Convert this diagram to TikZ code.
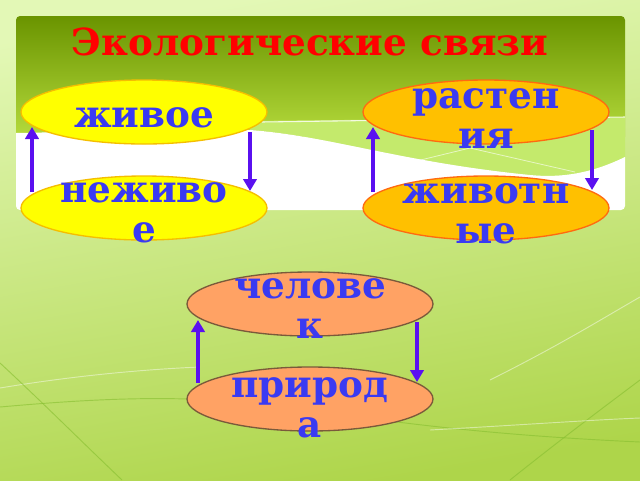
\documentclass[tikz,border=0pt]{standalone}
\usepackage{fontspec}
\setmainfont{DejaVu Serif}
\usetikzlibrary{shapes.geometric,arrows.meta,calc}
\definecolor{bgtop}{HTML}{E3F8B6}
\definecolor{bgbot}{HTML}{AED54A}
\definecolor{bantop}{HTML}{6A9400}
\definecolor{banbot}{HTML}{B4DA3C}
\definecolor{band}{HTML}{C4EA6C}
\definecolor{txtblue}{HTML}{3A3AF2}
\definecolor{arrblue}{HTML}{5A10F0}
\definecolor{ylfill}{HTML}{FFFF00}
\definecolor{ylline}{HTML}{F5BE00}
\definecolor{orfill}{HTML}{FFC000}
\definecolor{orline}{HTML}{FF6A10}
\definecolor{sfill}{HTML}{FFA264}
\definecolor{sline}{HTML}{7A5A3A}
\definecolor{titlered}{HTML}{FF0000}
\definecolor{lineg}{HTML}{86BE30}
\tikzset{
  eli/.style={ellipse, minimum width=184.5pt, minimum height=48pt, inner sep=0pt, line width=1pt},
  lab/.style={font=\fontsize{28}{30}\selectfont\bfseries, text=txtblue, align=center, inner sep=0pt, anchor=north},
  link/.style={draw=arrblue, line width=3pt, -{Triangle[length=9pt,width=10pt]}},
  faintw/.style={draw=white, opacity=0.45, line width=0.7pt},
  faintg/.style={draw=lineg, opacity=0.6, line width=0.7pt}
}
\begin{document}
\begin{tikzpicture}[x=0.75pt,y=-0.75pt]
\useasboundingbox (0,0) rectangle (640,480);
% background
\shade[top color=bgtop, bottom color=bgbot, shading angle=10] (0,0) rectangle (640,480);
\draw[faintg] (0,407) .. controls (100,398) and (170,396) .. (240,402) .. controls (330,410) and (420,432) .. (640,442);
\draw[faintw] (0,388) .. controls (60,378) and (130,370) .. (200,367);
\draw[faintw] (490,380) .. controls (560,345) and (600,320) .. (640,297);
\draw[faintg] (510,480) .. controls (560,440) and (600,410) .. (640,380);
\draw[faintg] (0,363) .. controls (40,400) and (80,440) .. (122,480);
\draw[faintw] (430,430) .. controls (520,425) and (590,420) .. (640,418);
% banner
\begin{scope}
\clip[rounded corners=3pt] (16,16) rectangle (625,210);
\shade[top color=bantop, bottom color=banbot] (16,16) rectangle (625,136);
\fill[band] (250,121) -- (625,117) -- (625,157) .. controls (590,174) and (560,178) .. (530,175) .. controls (400,162) and (330,136) .. (250,130) -- cycle;
\fill[white] (16,133) .. controls (120,131) and (200,129) .. (250,130) .. controls (330,136) and (400,162) .. (530,175) .. controls (560,178) and (590,174) .. (625,157) -- (625,210) -- (16,210) -- cycle;
\draw[white, line width=0.8pt, opacity=0.8] (262,122) -- (625,117);
\draw[white, line width=0.6pt, opacity=0.6] (400,165) -- (470,148) -- (575,172);
\end{scope}
\node[text=titlered, font=\fontsize{28}{30}\selectfont\bfseries, anchor=base] (title) at (310,55) {Экологические связи};
% ellipses
\node[eli, fill=ylfill, draw=ylline] (zhiv) at (144,112) {};
\node[eli, fill=ylfill, draw=ylline] (nezh) at (144,208) {};
\node[eli, fill=orfill, draw=orline] (rast) at (486,112) {};
\node[eli, fill=orfill, draw=orline] (zhivot) at (486,208) {};
\node[eli, fill=sfill, draw=sline] (chel) at (310,304) {};
\node[eli, fill=sfill, draw=sline] (prir) at (310,399) {};
% labels
\node[lab] (tzhiv) at ($(zhiv.center)+(0,-5)$) {живое};
\node[lab] (tnezh) at ($(nezh.center)+(0,-26)$) {неживо\\е};
\node[lab] (trast) at ($(rast.center)+(0,-24)$) {растен\\ия};
\node[lab] (tzhivot) at ($(zhivot.center)+(0,-25)$) {животн\\ые};
\node[lab] (tchel) at ($(chel.center)+(0,-26)$) {челове\\к};
\node[lab] (tprir) at ($(prir.center)+(0,-22)$) {природ\\а};
% connectors
\coordinate (a1s) at ($(nezh.center)+(-112,-16)$);
\coordinate (a1e) at ($(zhiv.center)+(-112,15)$);
\coordinate (a2s) at ($(zhiv.center)+(106,20)$);
\coordinate (a2e) at ($(nezh.center)+(106,-17)$);
\coordinate (b1s) at ($(zhivot.center)+(-113,-16)$);
\coordinate (b1e) at ($(rast.center)+(-113,15)$);
\coordinate (b2s) at ($(rast.center)+(106,18)$);
\coordinate (b2e) at ($(zhivot.center)+(106,-18)$);
\coordinate (c1s) at ($(prir.center)+(-112,-16)$);
\coordinate (c1e) at ($(chel.center)+(-112,16)$);
\coordinate (c2s) at ($(chel.center)+(107,18)$);
\coordinate (c2e) at ($(prir.center)+(107,-17)$);
\draw[link] (a1s) -- (a1e);
\draw[link] (a2s) -- (a2e);
\draw[link] (b1s) -- (b1e);
\draw[link] (b2s) -- (b2e);
\draw[link] (c1s) -- (c1e);
\draw[link] (c2s) -- (c2e);
\end{tikzpicture}
\end{document}
